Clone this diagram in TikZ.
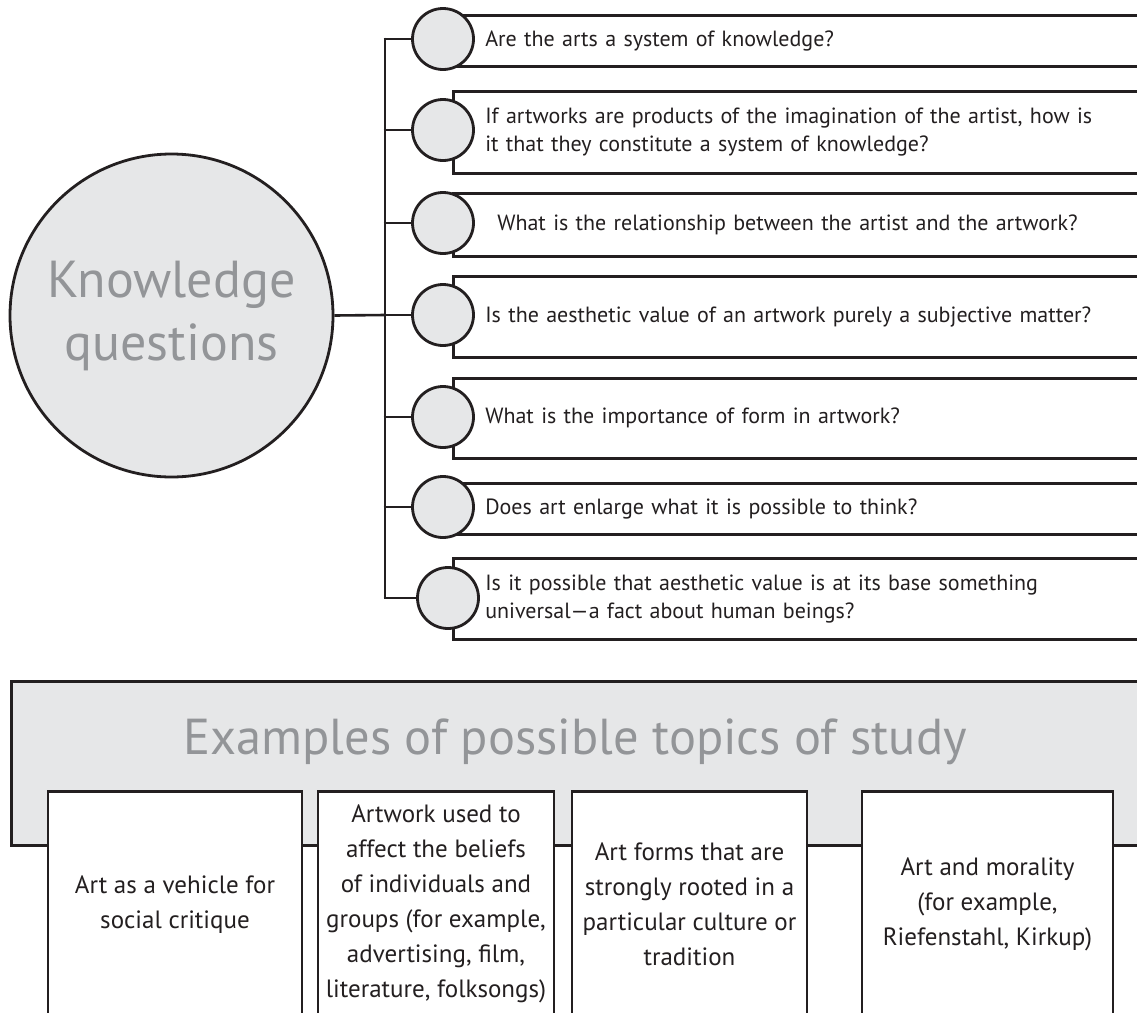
\documentclass[tikz,border=0pt]{standalone}
\usepackage{fontspec}
\setmainfont{PT Sans}
\definecolor{lgray}{HTML}{E6E7E8}
\definecolor{tgray}{HTML}{939598}
\definecolor{ink}{HTML}{231F20}
\begin{document}
\begin{tikzpicture}[x=1pt,y=-1pt,
  qcirc/.style={circle, draw=ink, fill=lgray, line width=2.8pt, minimum size=61pt, inner sep=0pt},
  qbox/.style={rectangle, draw=ink, fill=white, line width=2.6pt, anchor=north west, align=left,
    text width=700pt, inner xsep=32pt, inner ysep=0pt, text=ink, font=\fontsize{22}{28}\selectfont},
  conn/.style={draw=ink, line width=2.6pt},
  tbox/.style={rectangle, draw=ink, fill=white, line width=2.6pt, anchor=north, minimum height=226pt,
    inner sep=0pt, align=center, text=ink, font=\fontsize{25}{35}\selectfont},
]
\clip (0,0) rectangle (1137,1012);
% question boxes
\node[qbox, minimum height=51pt] (q1) at (452,14) {Are the arts a system of knowledge?};
\node[qbox, minimum height=82pt] (q2) at (452,90) {If artworks are products of the imagination of the artist, how is\\it that they constitute a system of knowledge?};
\node[qbox, minimum height=63pt, inner xsep=44pt] (q3) at (452,192) {What is the relationship between the artist and the artwork?};
\node[qbox, minimum height=81pt] (q4) at (452,275) {Is the aesthetic value of an artwork purely a subjective matter?};
\node[qbox, minimum height=80pt] (q5) at (452,377) {What is the importance of form in artwork?};
\node[qbox, minimum height=51pt] (q6) at (452,482) {Does art enlarge what it is possible to think?};
\node[qbox, minimum height=81pt] (q7) at (452,557) {Is it possible that aesthetic value is at its base something\\universal---a fact about human beings?};
% bus
\coordinate (b1) at (385,39);
\coordinate (b2) at (385,130);
\coordinate (b3) at (385,223);
\coordinate (b4) at (385,315);
\coordinate (b5) at (385,417);
\coordinate (b6) at (385,507);
\coordinate (b7) at (385,598);
\draw[conn] ([yshift=1.3pt]b1) -- ([yshift=-1.3pt]b7);
% circles
\node[qcirc] (c1) at (443,39) {};
\node[qcirc] (c2) at (443,130) {};
\node[qcirc] (c3) at (443,223) {};
\node[qcirc] (c4) at (443,315) {};
\node[qcirc] (c5) at (443,417) {};
\node[qcirc] (c6) at (443,507) {};
\node[qcirc] (c7) at (448,598) {};
\foreach \i in {1,...,7} { \draw[conn] ([xshift=-1.3pt]b\i) -- (c\i.west); }
% main circle
\node[circle, draw=ink, fill=lgray, line width=2.8pt, minimum size=323pt, inner sep=0pt, align=center,
  text=tgray, font=\fontsize{52}{63}\selectfont] (kq) at (171.5,315.5) {Knowledge\\questions};
\draw[conn] (kq.east) -- (b4);
% banner
\node[rectangle, draw=ink, fill=lgray, line width=2.6pt, anchor=north west, minimum width=1160pt,
  minimum height=164pt, inner sep=0pt] (banner) at (10,680) {};
\node[text=tgray, font=\fontsize{50.5}{55}\selectfont, anchor=base, inner sep=0pt] (title) at (575,754) {Examples of possible topics of study};
% topic boxes
\node[tbox, minimum width=254pt] (t1) at (175,790) {Art as a vehicle for\\social critique};
\node[tbox, minimum width=236pt] (t2) at (436,790) {Artwork used to\\affect the beliefs\\of individuals and\\groups (for example,\\advertising, film,\\literature, folksongs)};
\node[tbox, minimum width=235pt] (t3) at (689.5,790) {Art forms that are\\strongly rooted in a\\particular culture or\\tradition};
\node[tbox, minimum width=251pt] (t4) at (987.5,790) {Art and morality\\(for example,\\Riefenstahl, Kirkup)};
\end{tikzpicture}
\end{document}
